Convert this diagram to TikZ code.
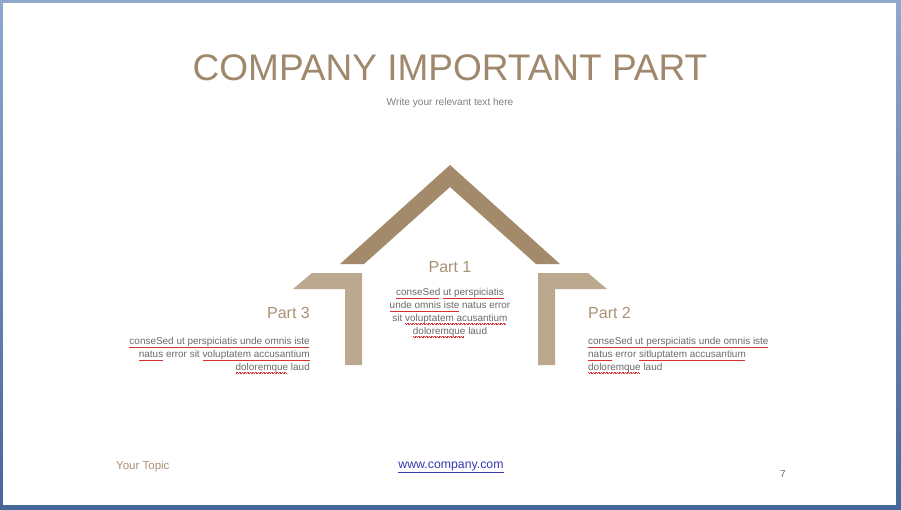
\documentclass[tikz,border=0pt]{standalone}
\usepackage{fontspec}
\setmainfont{Liberation Sans}
\definecolor{spellred}{HTML}{D83030}
\definecolor{roofcol}{HTML}{A38A6B}
\definecolor{wallcol}{HTML}{BCA78F}
\definecolor{titlecol}{HTML}{9F886B}
\definecolor{partcol}{HTML}{A89274}
\definecolor{bodycol}{HTML}{6A6A6A}
\definecolor{linkcol}{HTML}{3A3AAA}
\definecolor{frametop}{HTML}{8FA8CC}
\definecolor{framebot}{HTML}{45679A}
\newsavebox\wavebox
\newcommand\redwave[1]{\sbox\wavebox{#1}\rlap{\color{spellred}\hbox to\wd\wavebox{\leaders\hbox{\rule[-2.2pt]{0.8pt}{0.45pt}\rule[-2.8pt]{0.8pt}{0.45pt}}\hfill}}\usebox\wavebox}
\tikzset{
  partlabel/.style={text=partcol, font=\fontsize{16}{18}\selectfont, inner sep=0pt},
  bodytext/.style={text=bodycol, font=\fontsize{9.95}{12.9}\selectfont, inner sep=0pt},
}
\begin{document}
\begin{tikzpicture}[x=1pt,y=-1pt]
\useasboundingbox (0,0) rectangle (901,509);
% frame
\shade[top color=frametop, bottom color=framebot] (0,0) rectangle (901,509);
\fill[white] (3,3) rectangle (896,505);
% roof
\fill[roofcol] (340,264) -- (450,165) -- (560,264) -- (536,264) -- (450,187) -- (364,264) -- cycle;
% left wall
\fill[wallcol] (293,289) -- (312,273) -- (362,273) -- (362,365) -- (345,365) -- (345,289) -- cycle;
% right wall
\fill[wallcol] (607,289) -- (588,273) -- (538,273) -- (538,365) -- (555,365) -- (555,289) -- cycle;
% title
\node[text=titlecol, font=\fontsize{37}{40}\selectfont, inner sep=0pt] (title) at (450,68) {COMPANY IMPORTANT PART};
\node[text=bodycol!85, font=\fontsize{10.1}{12}\selectfont, inner sep=0pt] (subtitle) at (450,103) {Write your relevant text here};
% part 1
\node[partlabel] (p1) at (450,267) {Part 1};
\node[bodytext, align=center, anchor=north] (t1) at (450,288.5)
 {\redwave{conseSed} \redwave{ut perspiciatis}\\
  \redwave{unde omnis iste} natus error\\
  sit \redwave{voluptatem acusantium}\\
  \redwave{doloremque} laud};
% part 3
\node[partlabel, anchor=east] (p3) at (310,313) {Part 3};
\node[bodytext, align=right, anchor=north east] (t3) at (310,337.5)
 {\redwave{conseSed ut perspiciatis unde omnis iste}\\
  \redwave{natus} error sit \redwave{voluptatem accusantium}\\
  \redwave{doloremque} laud};
% part 2
\node[partlabel, anchor=west] (p2) at (588,313) {Part 2};
\node[bodytext, align=left, anchor=north west] (t2) at (588,337.5)
 {\redwave{conseSed ut perspiciatis unde omnis iste}\\
  \redwave{natus} error \redwave{sitluptatem accusantium}\\
  \redwave{doloremque} laud};
% footer
\node[text=partcol, font=\fontsize{11.5}{13}\selectfont, inner sep=0pt, anchor=west] (topic) at (116,467) {Your Topic};
\node[text=linkcol, font=\fontsize{12.3}{14}\selectfont, inner sep=0pt] (link) at (451,467) {\underline{www.company.com}};
\node[text=bodycol, font=\fontsize{10}{12}\selectfont, inner sep=0pt] (page) at (783,474) {7};
\end{tikzpicture}
\end{document}
